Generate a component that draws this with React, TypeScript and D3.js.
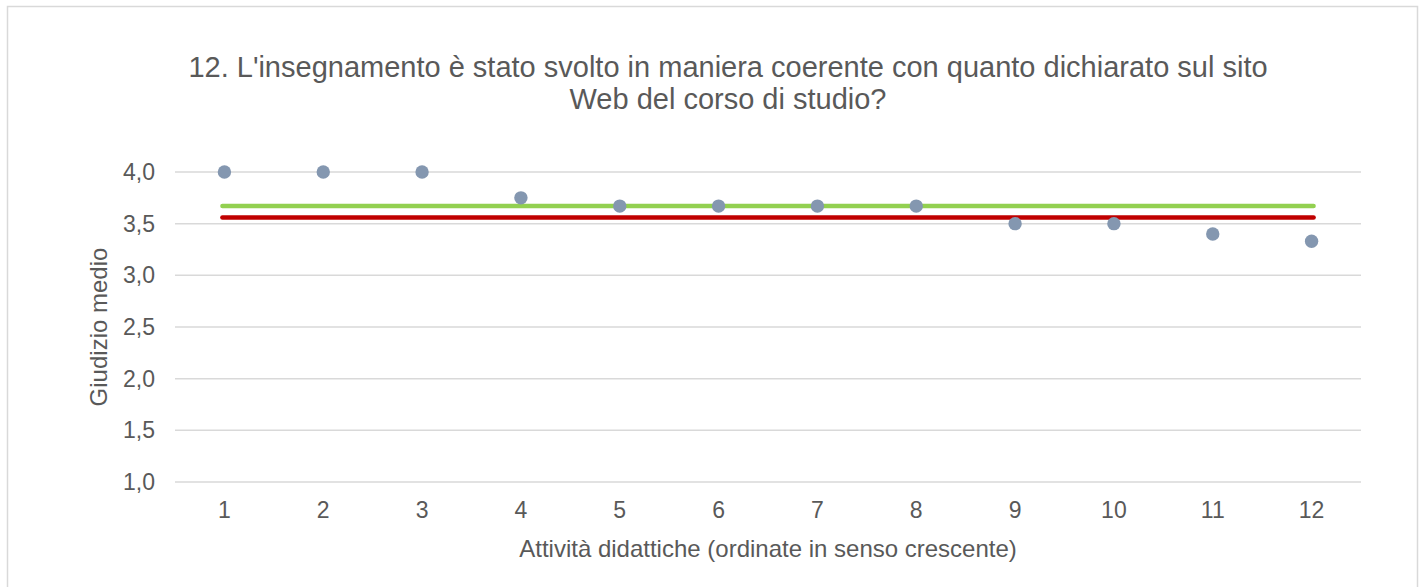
import React, { useEffect, useRef } from 'react'
import * as d3 from 'd3'

const categories = ['1', '2', '3', '4', '5', '6', '7', '8', '9', '10', '11', '12']
const scores = [4.0, 4.0, 4.0, 3.75, 3.67, 3.67, 3.67, 3.67, 3.5, 3.5, 3.4, 3.33]
const greenRef = 3.67
const redRef = 3.56
const yTicks = [1.0, 1.5, 2.0, 2.5, 3.0, 3.5, 4.0]

const titleLines = [
  "12. L'insegnamento è stato svolto in maniera coerente con quanto dichiarato sul sito",
  'Web del corso di studio?',
]

const W = 1422
const H = 587
const FONT = '"Liberation Sans", Arial, sans-serif'
const TEXT = '#595959'

export default function App() {
  const ref = useRef<SVGSVGElement | null>(null)

  useEffect(() => {
    if (!ref.current) return
    const svg = d3.select(ref.current)
    svg.selectAll('*').remove()

    const left = 175
    const right = 1361
    const top = 172
    const bottom = 482

    svg.append('rect').attr('width', W).attr('height', H).attr('fill', '#fff')
    svg
      .append('rect')
      .attr('x', 7.5)
      .attr('y', 6.5)
      .attr('width', 1410)
      .attr('height', 600)
      .attr('fill', 'none')
      .attr('stroke', '#d9d9d9')
      .attr('stroke-width', 1.5)

    const x = d3.scaleBand().domain(categories).range([left, right])
    const y = d3.scaleLinear().domain([1, 4]).range([bottom, top])

    // gridlines
    svg
      .append('g')
      .selectAll('line')
      .data(yTicks)
      .join('line')
      .attr('x1', left)
      .attr('x2', right)
      .attr('y1', (d) => y(d))
      .attr('y2', (d) => y(d))
      .attr('stroke', '#d9d9d9')
      .attr('stroke-width', 1.5)

    // y tick labels
    svg
      .append('g')
      .selectAll('text')
      .data(yTicks)
      .join('text')
      .attr('x', 155)
      .attr('y', (d) => y(d))
      .attr('dy', '0.35em')
      .attr('text-anchor', 'end')
      .attr('font-family', FONT)
      .attr('font-size', 23)
      .attr('fill', TEXT)
      .text((d) => d3.format('.1f')(d).replace('.', ','))

    // x tick labels
    const cx = (c: string) => (x(c) || 0) + x.bandwidth() / 2
    svg
      .append('g')
      .selectAll('text')
      .data(categories)
      .join('text')
      .attr('x', (d) => cx(d))
      .attr('y', 518)
      .attr('text-anchor', 'middle')
      .attr('font-family', FONT)
      .attr('font-size', 23)
      .attr('fill', TEXT)
      .text((d) => d)

    // reference lines
    const x0 = cx(categories[0])
    const x1 = cx(categories[categories.length - 1])
    ;[
      { v: greenRef, c: '#92d050' },
      { v: redRef, c: '#c00000' },
    ].forEach((r) => {
      svg
        .append('line')
        .attr('x1', x0 - 2)
        .attr('x2', x1 + 2)
        .attr('y1', y(r.v))
        .attr('y2', y(r.v))
        .attr('stroke', r.c)
        .attr('stroke-width', 4.5)
        .attr('stroke-linecap', 'round')
    })

    // points
    svg
      .append('g')
      .selectAll('circle')
      .data(scores)
      .join('circle')
      .attr('cx', (_, i) => cx(categories[i]))
      .attr('cy', (d) => y(d))
      .attr('r', 6.7)
      .attr('fill', '#8497b0')

    // title
    svg
      .append('g')
      .selectAll('text')
      .data(titleLines)
      .join('text')
      .attr('x', 728)
      .attr('y', (_, i) => 77 + i * 32)
      .attr('text-anchor', 'middle')
      .attr('font-family', FONT)
      .attr('font-size', 29)
      .attr('fill', TEXT)
      .text((d) => d)

    // axis titles
    svg
      .append('text')
      .attr('x', 768)
      .attr('y', 557)
      .attr('text-anchor', 'middle')
      .attr('font-family', FONT)
      .attr('font-size', 24)
      .attr('fill', TEXT)
      .text('Attività didattiche (ordinate in senso crescente)')

    svg
      .append('text')
      .attr('transform', `translate(107,327) rotate(-90)`)
      .attr('text-anchor', 'middle')
      .attr('font-family', FONT)
      .attr('font-size', 24)
      .attr('fill', TEXT)
      .text('Giudizio medio')
  }, [])

  return (
    <svg
      ref={ref}
      width={W}
      height={H}
      style={{ position: 'absolute', left: 0, top: 0, display: 'block' }}
    />
  )
}
